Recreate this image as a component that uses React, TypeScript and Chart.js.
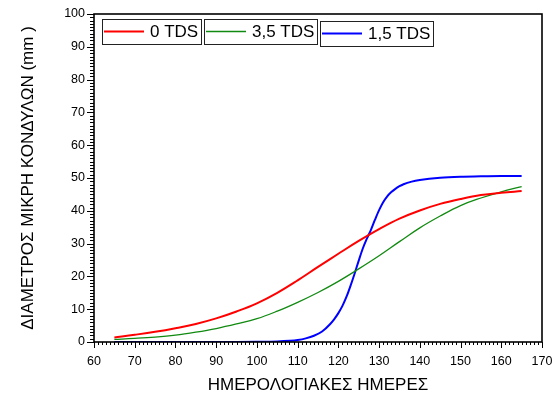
import React, { useEffect, useRef } from "react";
import { Chart, registerables } from "chart.js";

Chart.register(...registerables);

// ---- data ----
const legendLabels = ["0 TDS", "3,5 TDS", "1,5 TDS"];
const days = [65, 70, 75, 80, 85, 90, 95, 100, 105, 110, 115, 120, 125, 130, 135, 140, 145, 150, 155, 160, 165];
const red0 = [1.4, 2.2, 3.1, 4.2, 5.5, 7.2, 9.3, 11.8, 15.0, 18.8, 22.9, 26.9, 30.8, 34.4, 37.6, 40.1, 42.1, 43.6, 44.8, 45.5, 46.0];
const green35 = [0.8, 1.1, 1.5, 2.1, 3.0, 4.1, 5.5, 7.1, 9.4, 12.1, 15.1, 18.5, 22.3, 26.3, 30.6, 34.8, 38.4, 41.6, 43.9, 45.8, 47.4];
const blueDays = [65, 70, 75, 80, 85, 90, 95, 100, 105, 108, 110, 112, 114, 116, 118, 119, 120, 121, 122, 123, 124, 125, 126, 127, 128, 129, 130, 131, 132, 133, 134, 135, 136, 138, 140, 145, 150, 155, 160, 165];
const blue15 = [0, 0, 0, 0, 0, 0, 0, 0.05, 0.15, 0.35, 0.6, 1.1, 1.9, 3.2, 5.5, 7.0, 8.8, 11.0, 13.8, 17.2, 20.9, 24.8, 28.5, 31.5, 34.2, 37.3, 40.2, 42.6, 44.4, 45.7, 46.7, 47.5, 48.1, 48.9, 49.4, 50.1, 50.4, 50.5, 50.6, 50.6];
const xMin = 60, xMax = 170, xStep = 10;
const yMin = 0, yMax = 100, yStep = 10;
const xTitle = "ΗΜΕΡΟΛΟΓΙΑΚΕΣ ΗΜΕΡΕΣ";
const yTitle = "ΔΙΑΜΕΤΡΟΣ ΜΙΚΡΗ ΚΟΝΔΥΛΩΝ (mm )";

const FONT = "'Liberation Sans', Arial, sans-serif";

const framePlugin = {
  id: "frameTicks",
  afterDraw(chart: any) {
    const { ctx, chartArea: a, scales } = chart;
    const xs = scales.x, ys = scales.y;
    ctx.save();
    ctx.strokeStyle = "#000";
    ctx.lineWidth = 1.6;
    ctx.strokeRect(a.left, a.top, a.right - a.left, a.bottom - a.top);
    ctx.lineWidth = 1;
    ctx.beginPath();
    for (let v = xMin; v <= xMax; v += 1) {
      const px = Math.round(xs.getPixelForValue(v)) + 0.5;
      const len = v % xStep === 0 ? 6 : 3;
      ctx.moveTo(px, a.bottom);
      ctx.lineTo(px, a.bottom + len);
    }
    for (let v = yMin; v <= yMax; v += 1) {
      const py = Math.round(ys.getPixelForValue(v)) + 0.5;
      const len = v % yStep === 0 ? 7 : 4;
      ctx.moveTo(a.left, py);
      ctx.lineTo(a.left - len, py);
    }
    ctx.stroke();
    ctx.restore();
  },
};

const boxLegendPlugin = {
  id: "boxLegend",
  afterDraw(chart: any) {
    const { ctx, chartArea: a } = chart;
    const yOffsets = [0, 0, 2];
    ctx.save();
    ctx.font = `17px ${FONT}`;
    ctx.textBaseline = "middle";
    let x = a.left + 8;
    chart.data.datasets.forEach((ds: any, i: number) => {
      const tw = ctx.measureText(ds.label).width;
      const w = 2 + 40 + 6 + tw + 3;
      const top = a.top + 5 + yOffsets[i];
      const h = 25;
      ctx.strokeStyle = "#222";
      ctx.lineWidth = 1;
      ctx.strokeRect(Math.round(x) + 0.5, top + 0.5, Math.round(w), h);
      ctx.strokeStyle = ds.borderColor;
      ctx.lineWidth = ds.borderWidth;
      ctx.beginPath();
      ctx.moveTo(x + 2, top + h / 2);
      ctx.lineTo(x + 42, top + h / 2);
      ctx.stroke();
      ctx.fillStyle = "#000";
      ctx.fillText(ds.label, x + 48, top + h / 2 + 1);
      x += Math.round(w) + 3;
    });
    ctx.restore();
  },
};

export default function App() {
  const ref = useRef<HTMLCanvasElement>(null);
  useEffect(() => {
    if (!ref.current) return;
    const chart = new Chart(ref.current, {
      type: "line",
      data: {
        datasets: [
          {
            label: legendLabels[0],
            data: days.map((d, i) => ({ x: d, y: red0[i] })),
            borderColor: "#ff0000",
            borderWidth: 2,
            pointRadius: 0,
            tension: 0.4,
          },
          {
            label: legendLabels[1],
            data: days.map((d, i) => ({ x: d, y: green35[i] })),
            borderColor: "#108a10",
            borderWidth: 1.3,
            pointRadius: 0,
            tension: 0.4,
          },
          {
            label: legendLabels[2],
            data: blueDays.map((d, i) => ({ x: d, y: blue15[i] })),
            borderColor: "#0000ff",
            borderWidth: 2,
            pointRadius: 0,
            cubicInterpolationMode: "monotone",
          },
        ],
      },
      options: {
        responsive: false,
        animation: false,
        layout: { padding: { left: 0, right: 14, top: 14, bottom: 0 } },
        plugins: { legend: { display: false }, tooltip: { enabled: false } },
        scales: {
          x: {
            type: "linear",
            min: xMin,
            max: xMax,
            grid: { display: false, drawTicks: false },
            border: { display: false },
            ticks: { stepSize: xStep, color: "#000", padding: 12, font: { family: FONT, size: 12.5 } },
            title: { display: true, text: xTitle, color: "#000", font: { family: FONT, size: 17 }, padding: { top: 0, bottom: 1 } },
            afterFit: (s: any) => { s.height = 55; s.paddingLeft = 0; s.paddingRight = 0; },
          },
          y: {
            min: yMin,
            max: yMax,
            grid: { display: false, drawTicks: false },
            border: { display: false },
            ticks: { stepSize: yStep, color: "#000", padding: 9, font: { family: FONT, size: 12.5 } },
            title: { display: true, text: yTitle, color: "#000", font: { family: FONT, size: 17 }, padding: { top: 18, bottom: 0 } },
            afterFit: (s: any) => { s.width = 94; s.paddingTop = 0; s.paddingBottom = 0; },
          },
        },
      },
      plugins: [framePlugin, boxLegendPlugin],
    } as any);
    return () => chart.destroy();
  }, []);
  return (
    <div style={{ position: "fixed", left: 0, top: 0, width: 556, height: 397, background: "#fff" }}>
      <canvas ref={ref} width={556} height={397} style={{ display: "block" }} />
    </div>
  );
}
